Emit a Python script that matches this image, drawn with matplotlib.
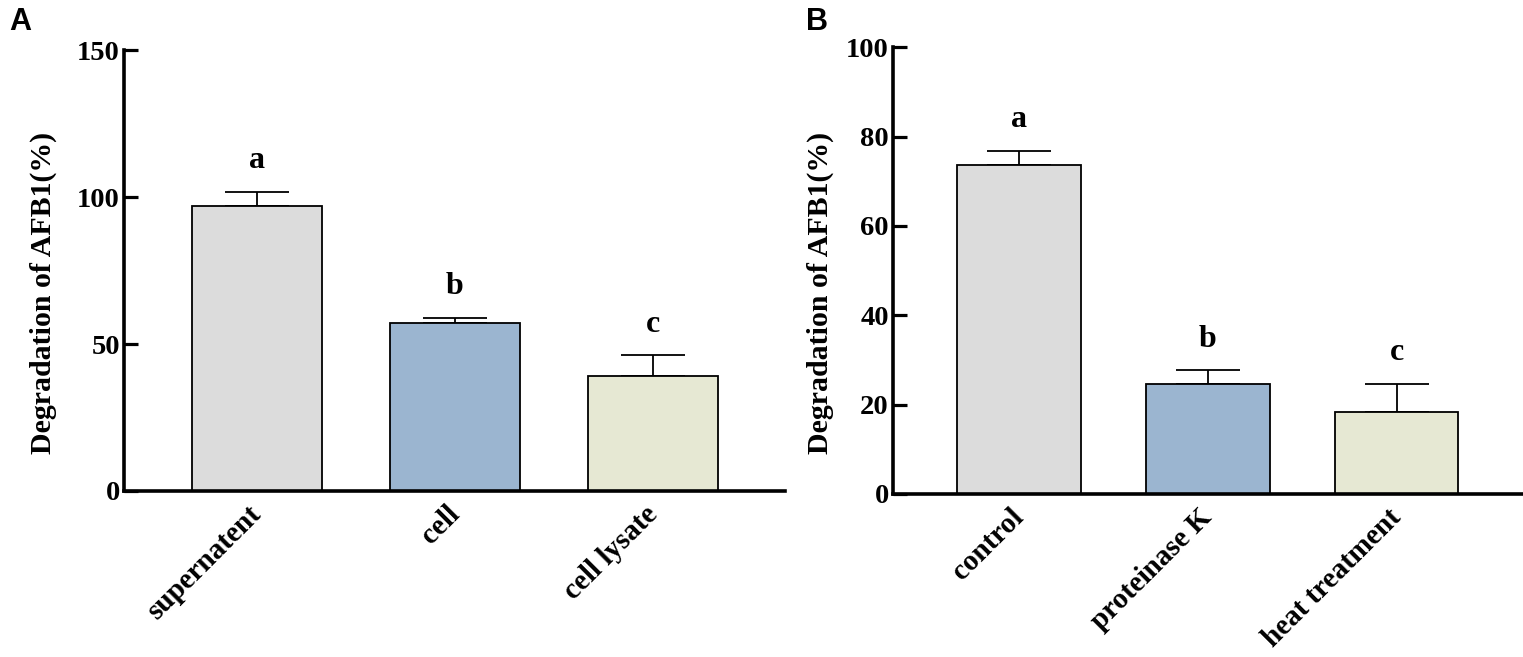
import matplotlib
matplotlib.use("Agg")
import matplotlib.pyplot as plt
import numpy as np

# ---- data ----
cats_a = ["supernatent", "cell", "cell lysate"]
means_a = [97.0, 57.0, 39.2]
errs_a = [4.8, 2.0, 7.0]
letters_a = ["a", "b", "c"]

cats_b = ["control", "proteinase K", "heat treatment"]
means_b = [73.6, 24.7, 18.3]
errs_b = [3.2, 3.0, 6.3]
letters_b = ["a", "b", "c"]

yticks_a = [0, 50, 100, 150]
yticks_b = [0, 20, 40, 60, 80, 100]

colors = ["#DCDCDC", "#9BB5D0", "#E6E8D3"]
ylabel = "Degradation of AFB1(%)"

serif = ["Liberation Serif", "DejaVu Serif"]
fs = 20.5

fig = plt.figure(figsize=(15.23, 6.57), dpi=100)
axA = fig.add_axes([0.0814, 0.2527, 0.434, 0.671])
axB = fig.add_axes([0.5863, 0.2481, 0.413, 0.680])


def draw(ax, cats, means, errs, letters, yticks, label_x):
    x = np.arange(len(cats))
    ax.bar(x, means, width=0.657, color=colors, edgecolor="black",
           linewidth=1.3, zorder=2)
    ax.errorbar(x, means, yerr=[np.zeros(len(errs)), errs], fmt="none",
                ecolor="black", elinewidth=1.3, capsize=23, capthick=1.3,
                zorder=1)
    for xi, m, e, l in zip(x, means, errs, letters):
        ax.annotate(l, xy=(xi, m + e), xytext=(0, 12),
                    textcoords="offset points", ha="center", va="bottom",
                    fontsize=23, fontweight="bold", family=serif)
    ax.set_xlim(-0.67, len(cats) - 1 + 0.665)
    ax.set_ylim(yticks[0], yticks[-1])
    ax.set_yticks(yticks)
    ax.set_xticks(x)
    ax.set_xticklabels(cats, rotation=45, ha="right", va="center",
                       rotation_mode="anchor", fontsize=21,
                       fontweight="bold", family=serif)
    for t in ax.get_yticklabels():
        t.set_fontsize(fs)
        t.set_fontweight("bold")
        t.set_family(serif)
    ax.tick_params(axis="y", direction="in", length=10, width=2.3, pad=3)
    ax.tick_params(axis="x", length=0, pad=14)
    for s in ["top", "right"]:
        ax.spines[s].set_visible(False)
    for s in ["left", "bottom"]:
        ax.spines[s].set_linewidth(2.6)
    ax.set_ylabel(ylabel, fontsize=21.5, fontweight="bold", family=serif)
    ax.yaxis.set_label_coords(label_x, 0.45)


draw(axA, cats_a, means_a, errs_a, letters_a, yticks_a, -0.101)
draw(axB, cats_b, means_b, errs_b, letters_b, yticks_b, -0.093)

fig.text(0.006, 0.99, "A", fontsize=22, fontweight="bold",
         family=["Liberation Sans", "DejaVu Sans"], va="top", ha="left")
fig.text(0.529, 0.99, "B", fontsize=22, fontweight="bold",
         family=["Liberation Sans", "DejaVu Sans"], va="top", ha="left")

fig.savefig("out.png", dpi=100)
